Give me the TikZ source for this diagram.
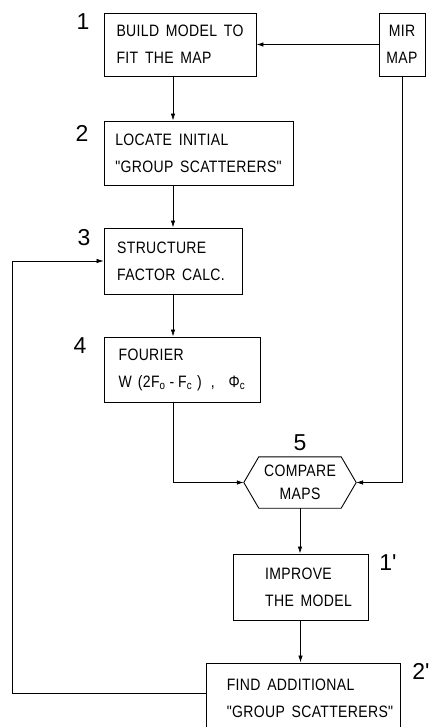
\documentclass[tikz,border=0pt]{standalone}
\usepackage{fontspec}
\setmainfont{Liberation Sans}
\newfontfamily\letterfont[LetterSpace=2,FakeStretch=0.85,WordSpace=1.6]{Liberation Sans}
\newfontfamily\numfont[Ligatures=ResetAll]{Liberation Sans}
\usetikzlibrary{arrows.meta}
\begin{document}
\begin{tikzpicture}[x=1pt,y=-1pt,
  box/.style={draw, line width=0.9pt, inner sep=0pt, align=left,
    font=\letterfont\fontsize{16.5}{27}\selectfont},
  lbl/.style={inner sep=0pt, align=center, font=\letterfont\fontsize{16.5}{23}\selectfont},
  num/.style={inner sep=0pt, font=\numfont\fontsize{23}{23}\selectfont},
  arr/.style={line width=0.8pt, -{Latex[length=7pt,width=4.5pt]}},
  thin/.style={line width=0.6pt, -{Latex[length=7pt,width=4.5pt]}}]
\useasboundingbox (0,0) rectangle (435,727);
\fill[white] (0,0) rectangle (435,727);

% boxes
\node[box, minimum width=152pt, minimum height=63pt] (b1) at (180,44.5) {BUILD MODEL TO\\FIT THE MAP};
\node[box, align=center, minimum width=46pt, minimum height=63pt] (mir) at (402,44.5) {MIR\\MAP};
\node[box, minimum width=189pt, minimum height=64pt] (b2) at (198.5,153) {LOCATE INITIAL\\"GROUP SCATTERERS"};
\node[box, minimum width=138pt, minimum height=66pt] (b3) at (173,261) {STRUCTURE\\FACTOR CALC.\hspace*{4pt}};
\node[box, minimum width=156pt, minimum height=65pt] (b4) at (182,369.5)
  {FOURIER\\W\hspace{6pt}(2F\textsubscript{o}\hspace{4pt}-\hspace{4pt}F\textsubscript{c}\hspace{5pt})\hspace{9pt},\hspace{14pt}Φ\textsubscript{c}};
\node[lbl, minimum width=112pt, minimum height=51pt] (cmp) at (300,482.5) {COMPARE\\MAPS};
\draw[line width=0.9pt] (cmp.west) -- ([xshift=15pt]cmp.north west) -- ([xshift=-15pt]cmp.north east)
  -- (cmp.east) -- ([xshift=-15pt]cmp.south east) -- ([xshift=15pt]cmp.south west) -- cycle;
\node[box, minimum width=135pt, minimum height=66pt] (b1p) at (300.5,587)
  {\hspace*{16pt}IMPROVE\\\hspace*{16pt}THE MODEL};
\node[box, minimum width=194pt, minimum height=70pt] (b2p) at (303,698)
  {\hspace*{14pt}FIND ADDITIONAL\\\hspace*{14pt}"GROUP SCATTERERS"};

% step numbers
\node[num] (n1) at (83,22) {1};
\node[num] (n2) at (82,133) {2};
\node[num] (n3) at (84,238) {3};
\node[num] (n4) at (80,346) {4};
\node[num] (n5) at (300,443) {5};
\node[num] (n1p) at (388,563) {1'};
\node[num] (n2p) at (421,671) {2'};

% connectors
\draw[arr] (mir) -- (b1);
\draw[arr] (b1.south -| b3) -- (b2.north -| b3);
\draw[arr] (b2.south -| b3) -- (b3);
\draw[arr] (b3) -- (b4.north -| b3);
\draw[arr] (b4.south -| b3) |- (cmp.west);
\draw[thin] (mir.south) |- (cmp.east);
\draw[arr] (cmp.south) -- (b1p.north -| cmp);
\draw[arr] (b1p) -- (b2p.north -| b1p);
\coordinate (fb) at (12,693);
\draw[thin] (b2p.west |- fb) -- (fb) |- (b3.west);
\end{tikzpicture}
\end{document}
